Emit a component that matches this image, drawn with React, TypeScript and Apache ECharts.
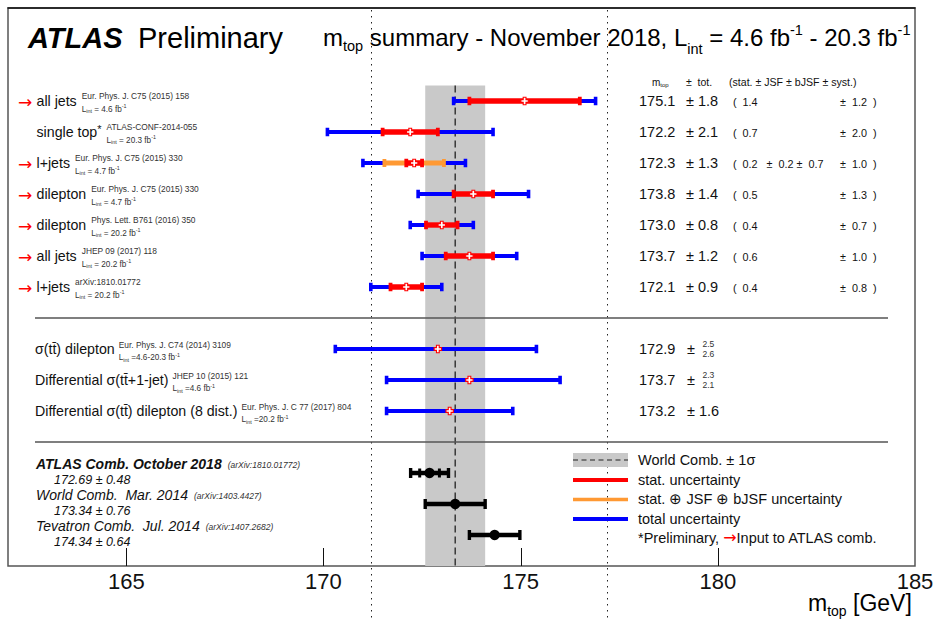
import React, { useEffect, useRef } from 'react';
import * as echarts from 'echarts';

const FONT = '"Liberation Sans", Arial, Helvetica, sans-serif';
const ARROW_FONT = '"DejaVu Sans", sans-serif';

// ---------- axis ----------
const X_MIN = 162;
const X_MAX = 185;
const xTickValues = [165, 170, 175, 180];
const xLabelValues = [165, 170, 175, 180, 185];
const dottedAt = [171.2, 177.2];

// ---------- individual measurements ----------
const measLabels = ['all jets', 'single top', 'l+jets', 'dilepton', 'dilepton', 'all jets', 'l+jets'];
const measStar = [false, true, false, false, false, false, false];
const measRefs = [
  'Eur. Phys. J. C75 (2015) 158',
  'ATLAS-CONF-2014-055',
  'Eur. Phys. J. C75 (2015) 330',
  'Eur. Phys. J. C75 (2015) 330',
  'Phys. Lett. B761 (2016) 350',
  'JHEP 09 (2017) 118',
  'arXiv:1810.01772',
];
const measLumi = ['4.6', '20.3', '4.7', '4.7', '20.2', '20.2', '20.2'];
const measInput = [true, false, true, true, true, true, true];
const measCentral = [175.1, 172.2, 172.3, 173.8, 173.0, 173.7, 172.1];
const measTot = [1.8, 2.1, 1.3, 1.4, 0.8, 1.2, 0.9];
const measStat = [1.4, 0.7, 0.2, 0.5, 0.4, 0.6, 0.4];
const measJsf: (number | null)[] = [null, null, 0.2, null, null, null, null];
const measBjsf: (number | null)[] = [null, null, 0.7, null, null, null, null];
const measSyst = [1.2, 2.0, 1.0, 1.3, 0.7, 1.0, 0.8];

// ---------- cross-section based ----------
const xsLabels = ['σ(tt\u0304) dilepton', 'Differential σ(tt\u0304+1-jet)', 'Differential σ(tt\u0304) dilepton (8 dist.)'];
const xsRefs = ['Eur. Phys. J. C74 (2014) 3109', 'JHEP 10 (2015) 121', 'Eur. Phys. J. C 77 (2017) 804'];
const xsLumi = ['4.6-20.3', '4.6', '20.2'];
const xsCentral = [172.9, 173.7, 173.2];
const xsUp = [2.5, 2.3, 1.6];
const xsDown = [2.6, 2.1, 1.6];

// ---------- combinations ----------
const combNames = ['ATLAS Comb. October 2018', 'World Comb.  Mar. 2014', 'Tevatron Comb.  Jul. 2014'];
const combRefs = ['(arXiv:1810.01772)', '(arXiv:1403.4427)', '(arXiv:1407.2682)'];
const combCentral = [172.69, 173.34, 174.34];
const combErr = [0.48, 0.76, 0.64];
const combStat: (number | null)[] = [0.25, null, null];

// ---------- layout constants (row slots on hidden y axis) ----------
const Y_MAX = 18;
const MEAS_START = 3;
const XS_START = 11;
const COMB_START = 15;
const SEPARATORS = [10, 14];
const BAND_TOP = 2.5;

const BLUE = '#0000ff';
const RED = '#ff0000';
const ORANGE = '#ff9933';

let ctx: CanvasRenderingContext2D | null = null;
function measure(text: string, size: number, weight = 'normal', style = 'normal', family = FONT) {
  if (!ctx) ctx = document.createElement('canvas').getContext('2d');
  ctx!.font = `${style} ${weight} ${size}px ${family}`;
  return ctx!.measureText(text).width;
}

type Seg = { t: string; s: number; dy?: number; w?: string; i?: boolean; c?: string; f?: string };
function segs(x: number, y: number, list: Seg[], z = 20): any[] {
  const out: any[] = [];
  let cx = x;
  for (const g of list) {
    out.push({
      type: 'text',
      x: cx,
      y: y + (g.dy || 0),
      z,
      silent: true,
      style: {
        text: g.t,
        fontSize: g.s,
        fontFamily: g.f || FONT,
        fontWeight: g.w || 'normal',
        fontStyle: g.i ? 'italic' : 'normal',
        fill: g.c || '#111',
        align: 'left',
        verticalAlign: 'middle',
      },
    });
    cx += measure(g.t, g.s, g.w || 'normal', g.i ? 'italic' : 'normal', g.f || FONT);
  }
  return out;
}
function segsWidth(list: Seg[]) {
  return list.reduce((a, g) => a + measure(g.t, g.s, g.w || 'normal', g.i ? 'italic' : 'normal', g.f || FONT), 0);
}

const barRender = (color: string, h: number, capW: number, capH: number) => (_p: any, api: any) => {
  const s = api.value(1);
  const a = api.coord([api.value(2), s]);
  const b = api.coord([api.value(3), s]);
  return {
    type: 'group',
    children: [
      { type: 'rect', shape: { x: a[0], y: a[1] - h / 2, width: b[0] - a[0], height: h }, style: { fill: color } },
      { type: 'rect', shape: { x: a[0] - capW / 2, y: a[1] - capH / 2, width: capW, height: capH }, style: { fill: color } },
      { type: 'rect', shape: { x: b[0] - capW / 2, y: b[1] - capH / 2, width: capW, height: capH }, style: { fill: color } },
    ],
  };
};

const plusRender = (_p: any, api: any) => {
  const p = api.coord([api.value(0), api.value(1)]);
  const a = 3.7;
  const t = 1.4;
  const pts = [
    [-t, -a], [t, -a], [t, -t], [a, -t], [a, t], [t, t], [t, a], [-t, a], [-t, t], [-a, t], [-a, -t], [-t, -t],
  ].map(([dx, dy]) => [p[0] + dx, p[1] + dy]);
  return { type: 'polygon', shape: { points: pts }, style: { fill: '#fff', stroke: RED, lineWidth: 1.1 } };
};

const combRender = (_p: any, api: any) => {
  const s = api.value(1);
  const c = api.coord([api.value(0), s]);
  const a = api.coord([api.value(2), s]);
  const b = api.coord([api.value(3), s]);
  const children: any[] = [
    { type: 'rect', shape: { x: a[0], y: a[1] - 2.3, width: b[0] - a[0], height: 4.6 }, style: { fill: '#000' } },
    { type: 'rect', shape: { x: a[0] - 1.7, y: a[1] - 5, width: 3.4, height: 10 }, style: { fill: '#000' } },
    { type: 'rect', shape: { x: b[0] - 1.7, y: b[1] - 5, width: 3.4, height: 10 }, style: { fill: '#000' } },
  ];
  const sl = api.value(4);
  const sh = api.value(5);
  if (sl != null && !isNaN(sl)) {
    const l = api.coord([sl, s]);
    const h = api.coord([sh, s]);
    children.push({ type: 'rect', shape: { x: l[0] - 1.5, y: l[1] - 4.5, width: 3, height: 9 }, style: { fill: '#000' } });
    children.push({ type: 'rect', shape: { x: h[0] - 1.5, y: h[1] - 4.5, width: 3, height: 9 }, style: { fill: '#000' } });
  }
  children.push({ type: 'circle', shape: { cx: c[0], cy: c[1], r: 5.2 }, style: { fill: '#000' } });
  return { type: 'group', children };
};

const bandRender = (_p: any, api: any) => {
  const c = api.value(0);
  const e = api.value(1);
  const a = api.coord([c - e, BAND_TOP]);
  const b = api.coord([c + e, Y_MAX]);
  const m = api.coord([c, BAND_TOP]);
  return {
    type: 'group',
    children: [
      { type: 'rect', shape: { x: a[0], y: a[1], width: b[0] - a[0], height: b[1] - a[1] }, style: { fill: '#c9c9c9' } },
      { type: 'line', shape: { x1: m[0], y1: a[1], x2: m[0], y2: b[1] }, style: { stroke: '#222', lineWidth: 1.3, lineDash: [7, 4] } },
    ],
  };
};

export default function App() {
  const ref = useRef<HTMLDivElement>(null);
  useEffect(() => {
    if (!ref.current) return;
    const chart = echarts.init(ref.current, null, { renderer: 'svg' });

    const blueData: number[][] = [];
    const orangeData: number[][] = [];
    const redData: number[][] = [];
    const markerData: number[][] = [];
    measCentral.forEach((c, i) => {
      const s = MEAS_START + i;
      blueData.push([c, s, c - measTot[i], c + measTot[i]]);
      if (measJsf[i] != null) {
        const q = Math.sqrt(measStat[i] ** 2 + (measJsf[i] as number) ** 2 + (measBjsf[i] as number) ** 2);
        orangeData.push([c, s, c - q, c + q]);
      }
      redData.push([c, s, c - measStat[i], c + measStat[i]]);
      markerData.push([c, s]);
    });
    xsCentral.forEach((c, i) => {
      const s = XS_START + i;
      blueData.push([c, s, c - xsDown[i], c + xsUp[i]]);
      markerData.push([c, s]);
    });
    const combData = combCentral.map((c, i) => [
      c,
      COMB_START + i,
      c - combErr[i],
      c + combErr[i],
      combStat[i] != null ? c - (combStat[i] as number) : NaN,
      combStat[i] != null ? c + (combStat[i] as number) : NaN,
    ]);

    chart.setOption({
      animation: false,
      grid: { left: 8, right: 23, top: 8, bottom: 54, show: true, borderColor: '#555', borderWidth: 1.5 },
      xAxis: {
        type: 'value',
        min: X_MIN,
        max: X_MAX,
        splitLine: { show: false },
        axisLine: { show: true, lineStyle: { color: '#111', width: 1.5 } },
        axisTick: { show: false },
        axisLabel: { customValues: xLabelValues, fontSize: 22, fontFamily: FONT, color: '#111', margin: 4 },
      },
      yAxis: { type: 'value', min: 0, max: Y_MAX, inverse: true, show: false },
      series: [
        { type: 'custom', z: 2, renderItem: bandRender, data: [[combCentral[1], combErr[1]]], silent: true },
        { type: 'custom', z: 5, renderItem: barRender(BLUE, 4.2, 3.6, 8.5), data: blueData, silent: true },
        { type: 'custom', z: 6, renderItem: barRender(ORANGE, 5.2, 3.8, 8), data: orangeData, silent: true },
        { type: 'custom', z: 7, renderItem: barRender(RED, 5.4, 3.8, 8.5), data: redData, silent: true },
        { type: 'custom', z: 8, renderItem: plusRender, data: markerData, silent: true },
        { type: 'custom', z: 8, renderItem: combRender, data: combData, silent: true },
      ],
    });

    const px = (v: number) => chart.convertToPixel({ xAxisIndex: 0 }, v) as number;
    const py = (v: number) => chart.convertToPixel({ yAxisIndex: 0 }, v) as number;
    const els: any[] = [];

    // axis ticks (pointing up, inside the frame)
    const yAxisPix = py(Y_MAX);
    xTickValues.forEach((v) => {
      const x = Math.round(px(v)) + 0.5;
      els.push({ type: 'line', z: 15, silent: true, shape: { x1: x, y1: yAxisPix - 18, x2: x, y2: yAxisPix }, style: { stroke: '#111', lineWidth: 1 } });
    });

    // dotted verticals
    dottedAt.forEach((v) => {
      const x = Math.round(px(v)) + 0.5;
      els.push({ type: 'line', z: 1, silent: true, shape: { x1: x, y1: 10, x2: x, y2: 620 }, style: { stroke: '#222', lineWidth: 1, lineDash: [1.5, 4.5] } });
    });
    // separators
    SEPARATORS.forEach((s) => {
      const y = py(s);
      els.push({ type: 'line', z: 15, silent: true, shape: { x1: 35, y1: y, x2: 888, y2: y }, style: { stroke: '#555', lineWidth: 1.5 } });
    });

    // title
    els.push(...segs(28, 37.5, [{ t: 'ATLAS', s: 29, w: 'bold', i: true, c: '#000' }]));
    els.push(...segs(138, 37.5, [{ t: 'Preliminary', s: 29, c: '#000' }]));
    els.push(
      ...segs(323, 37.5, [
        { t: 'm', s: 24, c: '#000' },
        { t: 'top', s: 14.5, dy: 8.5, c: '#000' },
        { t: ' summary - November 2018, L', s: 24, c: '#000' },
        { t: 'int', s: 14.5, dy: 11.5, c: '#000' },
        { t: ' = 4.6 fb', s: 24, c: '#000' },
        { t: '-1', s: 14.5, dy: -8, c: '#000' },
        { t: ' - 20.3 fb', s: 24, c: '#000' },
        { t: '-1', s: 14.5, dy: -8, c: '#000' },
      ])
    );

    // column header
    els.push(...segs(652, 82, [{ t: 'm', s: 10 }, { t: 'top', s: 6, dy: 3 }]));
    els.push(...segs(686, 82, [{ t: '±  tot.', s: 10.5 }]));
    els.push(...segs(729, 82, [{ t: '(stat. ± JSF ± bJSF ± syst.)', s: 10.6 }]));

    const arrowSeg: Seg = { t: '→', s: 17, c: RED, f: ARROW_FONT };

    // measurement rows
    measLabels.forEach((lab, i) => {
      const y = py(MEAS_START + i);
      if (measInput[i]) els.push(...segs(18, y + 1, [arrowSeg]));
      const labSegs: Seg[] = [{ t: lab, s: 14.2 }];
      if (measStar[i]) labSegs.push({ t: '*', s: 11, dy: -3 });
      els.push(...segs(36.5, y, labSegs));
      const rx = 36.5 + segsWidth(labSegs) + 5;
      els.push(...segs(rx, y - 5, [{ t: measRefs[i], s: 8.4, c: '#333' }]));
      els.push(
        ...segs(rx, y + 8, [
          { t: 'L', s: 8.2, c: '#333' },
          { t: 'int', s: 5.4, dy: 2, c: '#333' },
          { t: ' = ' + measLumi[i] + ' fb', s: 8.2, c: '#333' },
          { t: '-1', s: 5.4, dy: -3, c: '#333' },
        ])
      );
      els.push(...segs(639, y, [{ t: measCentral[i].toFixed(1), s: 14.5 }]));
      els.push(...segs(686, y, [{ t: '± ' + measTot[i].toFixed(1), s: 14.5 }]));
      const inner =
        measJsf[i] != null
          ? `(  ${measStat[i].toFixed(1)}   ±  ${(measJsf[i] as number).toFixed(1)} ±  ${(measBjsf[i] as number).toFixed(1)}`
          : `(  ${measStat[i].toFixed(1)}`;
      els.push(...segs(733, y + 0.5, [{ t: inner, s: 10.8 }]));
      els.push(...segs(840, y + 0.5, [{ t: `±  ${measSyst[i].toFixed(1)}  )`, s: 10.8 }]));
    });

    // cross-section rows
    xsLabels.forEach((lab, i) => {
      const y = py(XS_START + i);
      const labSegs: Seg[] = [{ t: lab, s: 14.2 }];
      els.push(...segs(35, y, labSegs));
      const rx = 35 + segsWidth(labSegs) + 4;
      els.push(...segs(rx, y - 4.5, [{ t: xsRefs[i], s: 8.4, c: '#333' }]));
      els.push(
        ...segs(rx, y + 8.5, [
          { t: 'L', s: 8.2, c: '#333' },
          { t: 'int', s: 5.4, dy: 2, c: '#333' },
          { t: ' =' + xsLumi[i] + ' fb', s: 8.2, c: '#333' },
          { t: '-1', s: 5.4, dy: -3, c: '#333' },
        ])
      );
      els.push(...segs(639, y, [{ t: xsCentral[i].toFixed(1), s: 14.5 }]));
      if (xsUp[i] === xsDown[i]) {
        els.push(...segs(687, y, [{ t: '± ' + xsUp[i].toFixed(1), s: 14.5 }]));
      } else {
        els.push(...segs(687, y, [{ t: '±', s: 14.5 }]));
        els.push(...segs(702.5, y - 5.5, [{ t: xsUp[i].toFixed(1), s: 8.5, c: '#333' }]));
        els.push(...segs(702.5, y + 4.5, [{ t: xsDown[i].toFixed(1), s: 8.5, c: '#333' }]));
      }
    });

    // combinations
    combNames.forEach((name, i) => {
      const y = py(COMB_START + i);
      const ns: Seg = { t: name, s: 14, i: true, w: i === 0 ? 'bold' : 'normal' };
      els.push(...segs(36, y - 9.5, [ns]));
      const w = segsWidth([ns]);
      els.push(...segs(36 + w + 6, y - 8, [{ t: combRefs[i], s: 8.5, i: true, c: '#333' }]));
      els.push(
        ...segs(54, y + 6.5, [{ t: `${combCentral[i].toFixed(2)} ± ${combErr[i].toFixed(2)}`, s: 12.5, i: true }])
      );
    });

    // legend
    const lx1 = 573;
    const lx2 = 628;
    const ltx = 638;
    els.push({ type: 'rect', z: 15, silent: true, shape: { x: lx1, y: 453, width: lx2 - lx1, height: 14 }, style: { fill: '#c9c9c9' } });
    els.push({ type: 'line', z: 16, silent: true, shape: { x1: lx1, y1: 460, x2: lx2, y2: 460 }, style: { stroke: '#222', lineWidth: 1.2, lineDash: [5, 3.5] } });
    els.push(...segs(ltx, 460, [{ t: 'World Comb. ± 1σ', s: 14.5 }]));
    els.push({ type: 'line', z: 16, silent: true, shape: { x1: lx1, y1: 480, x2: lx2, y2: 480 }, style: { stroke: RED, lineWidth: 4 } });
    els.push(...segs(ltx, 479.5, [{ t: 'stat. uncertainty', s: 14.5 }]));
    els.push({ type: 'line', z: 16, silent: true, shape: { x1: lx1, y1: 499.5, x2: lx2, y2: 499.5 }, style: { stroke: ORANGE, lineWidth: 3.5 } });
    els.push(...segs(ltx, 499, [{ t: 'stat. ⊕ JSF ⊕ bJSF uncertainty', s: 14.5 }]));
    els.push({ type: 'line', z: 16, silent: true, shape: { x1: lx1, y1: 519, x2: lx2, y2: 519 }, style: { stroke: BLUE, lineWidth: 4 } });
    els.push(...segs(ltx, 518.5, [{ t: 'total uncertainty', s: 14.5 }]));
    els.push(
      ...segs(ltx, 537.5, [
        { t: '*Preliminary, ', s: 14.5 },
        { t: '→', s: 16, c: RED, f: ARROW_FONT },
        { t: 'Input to ATLAS comb.', s: 14.5 },
      ])
    );

    // axis title
    els.push(
      ...segs(808, 603, [
        { t: 'm', s: 23, c: '#000' },
        { t: 'top', s: 14, dy: 8, c: '#000' },
        { t: ' [GeV]', s: 23, c: '#000' },
      ])
    );

    chart.setOption({ graphic: els });

    return () => chart.dispose();
  }, []);

  return <div ref={ref} style={{ position: 'fixed', left: 0, top: 0, width: 938, height: 620, background: '#fff' }} />;
}
